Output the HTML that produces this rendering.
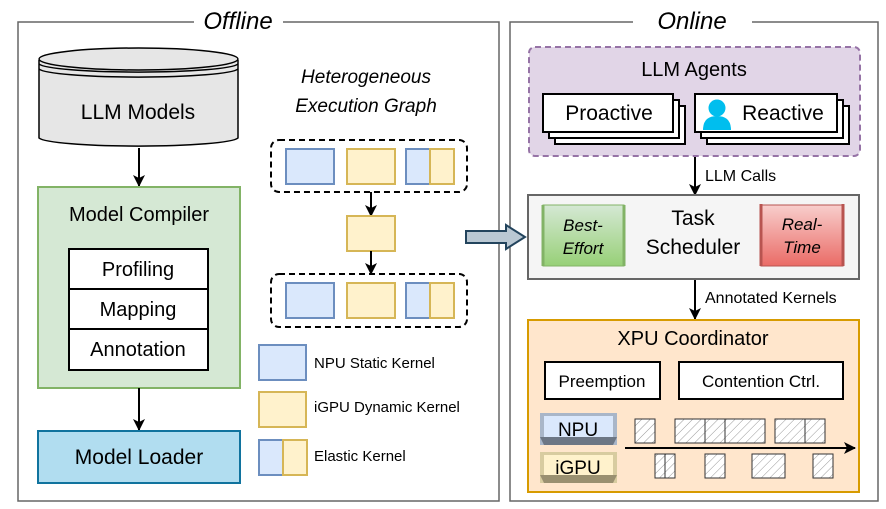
<!DOCTYPE html>
<html><head><meta charset="utf-8"><style>
html,body{margin:0;padding:0;background:#fff;}
svg{display:block;font-family:"Liberation Sans",Arial,sans-serif;}
</style></head><body>
<svg width="886" height="509" viewBox="0 0 886 509" xmlns="http://www.w3.org/2000/svg">
<defs>
<pattern id="h" width="6" height="6" patternUnits="userSpaceOnUse" patternTransform="rotate(45)">
<rect width="6" height="6" fill="#fff"/><line x1="0" y1="0" x2="0" y2="6" stroke="#999" stroke-width="1"/></pattern>
<linearGradient id="gg" x1="0" y1="0" x2="0" y2="1"><stop offset="0" stop-color="#d5e8d4"/><stop offset="1" stop-color="#97d077"/></linearGradient>
<linearGradient id="rg" x1="0" y1="0" x2="0" y2="1"><stop offset="0" stop-color="#f8cecc"/><stop offset="1" stop-color="#ea6b66"/></linearGradient>
<marker id="a" markerWidth="12" markerHeight="12" refX="11" refY="6" orient="auto" markerUnits="userSpaceOnUse"><path d="M0,0 L12,6 L0,12 L3,6 Z" fill="#000"/></marker>
</defs>
<path d="M194,22 H18 V501 H499 V22 H283" fill="none" stroke="#666" stroke-width="1.5"/>
<text x="238" y="29" font-size="24" font-style="italic" text-anchor="middle">Offline</text>
<path d="M633,22 H510 V501 H878 V22 H752" fill="none" stroke="#666" stroke-width="1.5"/>
<text x="692" y="29" font-size="24" font-style="italic" text-anchor="middle">Online</text>

<path d="M39,60 V138 A100,9 0 0 0 238,138 V60" fill="#e6e6e6" stroke="#000" stroke-width="1.5"/>
<ellipse cx="138.5" cy="59" rx="99.5" ry="11" fill="#e6e6e6" stroke="#000" stroke-width="1.5"/>
<path d="M39,64 A100,9 0 0 0 238,64 M39,69 A100,9 0 0 0 238,69" fill="none" stroke="#000" stroke-width="1.5"/>
<text x="138" y="119" font-size="21" text-anchor="middle">LLM Models</text>
<line x1="139" y1="148" x2="139" y2="186" stroke="#000" stroke-width="2" marker-end="url(#a)"/>

<rect x="38" y="187" width="202" height="201" fill="#d5e8d4" stroke="#82b366" stroke-width="2"/>
<text x="139" y="221" font-size="20" text-anchor="middle">Model Compiler</text>
<rect x="69" y="249" width="139" height="40" fill="#fff" stroke="#000" stroke-width="2"/>
<rect x="69" y="289" width="139" height="40" fill="#fff" stroke="#000" stroke-width="2"/>
<rect x="69" y="329" width="139" height="41" fill="#fff" stroke="#000" stroke-width="2"/>
<text x="138" y="276" font-size="20" text-anchor="middle">Profiling</text>
<text x="138" y="316" font-size="20" text-anchor="middle">Mapping</text>
<text x="138" y="356" font-size="20" text-anchor="middle">Annotation</text>
<line x1="139" y1="388" x2="139" y2="430" stroke="#000" stroke-width="2" marker-end="url(#a)"/>
<rect x="38" y="431" width="202" height="52" fill="#b1ddf0" stroke="#10739e" stroke-width="2"/>
<text x="139" y="464" font-size="21" text-anchor="middle">Model Loader</text>

<text x="366" y="83" font-size="19" font-style="italic" text-anchor="middle">Heterogeneous</text>
<text x="366" y="112" font-size="19" font-style="italic" text-anchor="middle">Execution Graph</text>
<rect x="271" y="140" width="196" height="52" rx="8" fill="none" stroke="#000" stroke-width="2" stroke-dasharray="6,4"/>
<rect x="286" y="149" width="48" height="35" fill="#dae8fc" stroke="#6c8ebf" stroke-width="2"/>
<rect x="347" y="149" width="48" height="35" fill="#fff2cc" stroke="#d6b656" stroke-width="2"/>
<rect x="406" y="149" width="24" height="35" fill="#dae8fc" stroke="#6c8ebf" stroke-width="2"/>
<rect x="430" y="149" width="24" height="35" fill="#fff2cc" stroke="#d6b656" stroke-width="2"/>
<line x1="371" y1="192" x2="371" y2="216" stroke="#000" stroke-width="2" marker-end="url(#a)"/>
<rect x="347" y="216" width="48" height="35" fill="#fff2cc" stroke="#d6b656" stroke-width="2"/>
<line x1="371" y1="251" x2="371" y2="274" stroke="#000" stroke-width="2" marker-end="url(#a)"/>
<rect x="271" y="274" width="196" height="53" rx="8" fill="none" stroke="#000" stroke-width="2" stroke-dasharray="6,4"/>
<rect x="286" y="283" width="48" height="35" fill="#dae8fc" stroke="#6c8ebf" stroke-width="2"/>
<rect x="347" y="283" width="48" height="35" fill="#fff2cc" stroke="#d6b656" stroke-width="2"/>
<rect x="406" y="283" width="24" height="35" fill="#dae8fc" stroke="#6c8ebf" stroke-width="2"/>
<rect x="430" y="283" width="24" height="35" fill="#fff2cc" stroke="#d6b656" stroke-width="2"/>

<rect x="259" y="345" width="47" height="35" fill="#dae8fc" stroke="#6c8ebf" stroke-width="2"/>
<text x="314" y="368" font-size="15">NPU Static Kernel</text>
<rect x="259" y="392" width="47" height="35" fill="#fff2cc" stroke="#d6b656" stroke-width="2"/>
<text x="314" y="412" font-size="15">iGPU Dynamic Kernel</text>
<rect x="259" y="440" width="24" height="35" fill="#dae8fc" stroke="#6c8ebf" stroke-width="2"/>
<rect x="283" y="440" width="24" height="35" fill="#fff2cc" stroke="#d6b656" stroke-width="2"/>
<text x="314" y="461" font-size="15">Elastic Kernel</text>

<path d="M466,231 H506 V225 L525,237 L506,249 V243 H466 Z" fill="#bac8d3" stroke="#23445d" stroke-width="2"/>

<rect x="529" y="47" width="331" height="109" rx="6" fill="#e1d5e7" stroke="#9673a6" stroke-width="2" stroke-dasharray="6,4"/>
<text x="694" y="76" font-size="20" text-anchor="middle">LLM Agents</text>
<rect x="555" y="106" width="130" height="38" fill="#fff" stroke="#000" stroke-width="2"/>
<rect x="549" y="100" width="130" height="38" fill="#fff" stroke="#000" stroke-width="2"/>
<rect x="543" y="94" width="130" height="38" fill="#fff" stroke="#000" stroke-width="2"/>
<text x="609" y="120" font-size="21" text-anchor="middle">Proactive</text>
<rect x="707" y="106" width="142" height="38" fill="#fff" stroke="#000" stroke-width="2"/>
<rect x="701" y="100" width="142" height="38" fill="#fff" stroke="#000" stroke-width="2"/>
<rect x="695" y="94" width="142" height="38" fill="#fff" stroke="#000" stroke-width="2"/>
<circle cx="717" cy="108" r="8.5" fill="#00beee"/>
<path d="M703,130 Q703,116 717,116 Q731,116 731,130 Z" fill="#00beee"/>
<text x="783" y="120" font-size="21" text-anchor="middle">Reactive</text>
<line x1="695" y1="157" x2="695" y2="195" stroke="#000" stroke-width="2" marker-end="url(#a)"/>
<text x="705" y="181" font-size="16">LLM Calls</text>

<rect x="528" y="195" width="331" height="84" fill="#f5f5f5" stroke="#666" stroke-width="2"/>
<rect x="543" y="205" width="81" height="61" fill="url(#gg)" stroke="#82b366" stroke-width="1"/>
<line x1="543" y1="205" x2="543" y2="266" stroke="#82b366" stroke-width="3"/><line x1="624" y1="205" x2="624" y2="266" stroke="#82b366" stroke-width="3"/>
<text x="583" y="231" font-size="17" font-style="italic" text-anchor="middle">Best-</text>
<text x="583" y="254" font-size="17" font-style="italic" text-anchor="middle">Effort</text>
<rect x="761" y="205" width="82" height="61" fill="url(#rg)" stroke="#b85450" stroke-width="1"/>
<line x1="761" y1="204" x2="761" y2="266" stroke="#b85450" stroke-width="3"/><line x1="843" y1="204" x2="843" y2="266" stroke="#b85450" stroke-width="3"/>
<text x="802" y="230" font-size="17" font-style="italic" text-anchor="middle">Real-</text>
<text x="802" y="253" font-size="17" font-style="italic" text-anchor="middle">Time</text>
<text x="693" y="225" font-size="21" text-anchor="middle">Task</text>
<text x="693" y="254" font-size="21" text-anchor="middle">Scheduler</text>
<line x1="695" y1="280" x2="695" y2="319" stroke="#000" stroke-width="2" marker-end="url(#a)"/>
<text x="705" y="303" font-size="16">Annotated Kernels</text>

<rect x="528" y="320" width="331" height="172" fill="#ffe6cc" stroke="#d79b00" stroke-width="2"/>
<text x="693" y="345" font-size="20" text-anchor="middle">XPU Coordinator</text>
<rect x="545" y="362" width="115" height="37" fill="#fff" stroke="#000" stroke-width="2"/>
<text x="602" y="387" font-size="17" text-anchor="middle">Preemption</text>
<rect x="679" y="362" width="164" height="37" fill="#fff" stroke="#000" stroke-width="2"/>
<text x="761" y="387" font-size="17" text-anchor="middle">Contention Ctrl.</text>

<rect x="540" y="413" width="77" height="32" fill="#a9b6c8"/>
<rect x="544" y="416" width="69" height="21" fill="#dae8fc"/>
<polygon points="540,437 617,437 613,445 544,445" fill="#6d7785"/>
<text x="578" y="436" font-size="19" text-anchor="middle">NPU</text>
<rect x="540" y="452" width="77" height="31" fill="#d8cca0"/>
<rect x="544" y="455" width="69" height="20" fill="#fff2cc"/>
<polygon points="540,475 617,475 613,483 544,483" fill="#9a9070"/>
<text x="578" y="474" font-size="19" text-anchor="middle">iGPU</text>

<line x1="625" y1="448" x2="855" y2="448" stroke="#000" stroke-width="2" marker-end="url(#a)"/>
<g fill="url(#h)" stroke="#333" stroke-width="1">
<rect x="635" y="419" width="20" height="24"/>
<rect x="675" y="419" width="30" height="24"/>
<rect x="705" y="419" width="20" height="24"/>
<rect x="725" y="419" width="40" height="24"/>
<rect x="775" y="419" width="30" height="24"/>
<rect x="805" y="419" width="20" height="24"/>
<rect x="655" y="454" width="10" height="24"/>
<rect x="665" y="454" width="10" height="24"/>
<rect x="705" y="454" width="20" height="24"/>
<rect x="752" y="454" width="33" height="24"/>
<rect x="813" y="454" width="20" height="24"/>
</g>
</svg>
</body></html>
